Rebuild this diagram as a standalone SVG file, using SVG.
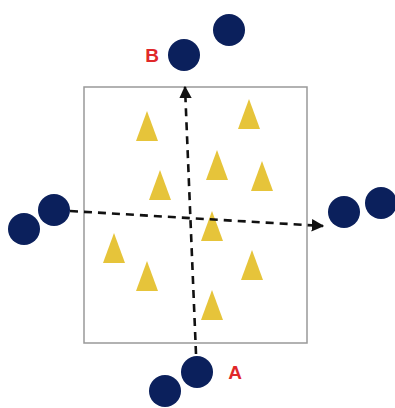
<svg xmlns="http://www.w3.org/2000/svg" width="395" height="408" viewBox="0 0 395 408">
<defs>
<style>
.ball{fill:#0b205c}
.tri{fill:#e6c43a}
.lbl{font-family:"Liberation Sans",Arial,sans-serif;font-weight:bold;font-size:19px;fill:#e0282a;text-anchor:middle}
.dash{stroke:#111;stroke-width:2.6;stroke-dasharray:8 6;fill:none}
</style>
<marker id="ah" viewBox="0 0 10 10" refX="9" refY="5" markerWidth="4.8" markerHeight="4.8" orient="auto" markerUnits="strokeWidth">
<path d="M0,0 L10,5 L0,10 Z" fill="#111"/>
</marker>
<path id="t" d="M0,-15 L11,15 L-11,15 Z"/>
</defs>
<rect id="frame" x="84" y="87" width="223" height="256" fill="#fff" stroke="#999" stroke-width="1.5"/>
<g id="triangles">
<use href="#t" class="tri" x="147" y="126"/>
<use href="#t" class="tri" x="249" y="114"/>
<use href="#t" class="tri" x="160" y="185"/>
<use href="#t" class="tri" x="217" y="165"/>
<use href="#t" class="tri" x="262" y="176"/>
<use href="#t" class="tri" x="212" y="226"/>
<use href="#t" class="tri" x="114" y="248"/>
<use href="#t" class="tri" x="147" y="276"/>
<use href="#t" class="tri" x="252" y="265"/>
<use href="#t" class="tri" x="212" y="305"/>
</g>
<g id="connectors">
<line class="dash" x1="196" y1="354" x2="185" y2="87" marker-end="url(#ah)"/>
<line class="dash" x1="70" y1="211" x2="323" y2="226" marker-end="url(#ah)"/>
</g>
<g id="groupB">
<circle class="ball" cx="229" cy="30" r="16"/>
<circle class="ball" cx="184" cy="55" r="16"/>
<text class="lbl" x="152" y="62">B</text>
</g>
<g id="groupLeft">
<circle class="ball" cx="54" cy="210" r="16"/>
<circle class="ball" cx="24" cy="229" r="16"/>
</g>
<g id="groupRight">
<circle class="ball" cx="344" cy="212" r="16"/>
<circle class="ball" cx="381" cy="203" r="16"/>
</g>
<g id="groupA">
<circle class="ball" cx="197" cy="372" r="16"/>
<circle class="ball" cx="165" cy="391" r="16"/>
<text class="lbl" x="235" y="379">A</text>
</g>
</svg>
